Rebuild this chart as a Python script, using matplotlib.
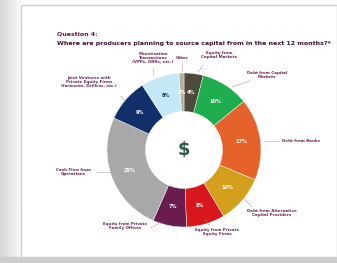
import matplotlib
matplotlib.use("Agg")
import matplotlib.pyplot as plt
import matplotlib.patches as mpatches
import numpy as np

# ---- data ----
categories = [
    "Equity from\nCapital Markets",
    "Debt from Capital\nMarkets",
    "Debt from Banks",
    "Debt from Alternative\nCapital Providers",
    "Equity from Private\nEquity Firms",
    "Equity from Private\nFamily Offices",
    "Cash Flow from\nOperations",
    "Joint Ventures with\nPrivate Equity Firms\n(farmouts, Drillcos, etc.)",
    "Monetization\nTransactions\n(VPPs, ORRs, etc.)",
    "Other",
]
values = [4, 10, 17, 10, 8, 7, 25, 9, 8, 1]
colors = ["#4e4b3c", "#1fae4f", "#e5622a", "#d59f1e", "#d8171d",
          "#6a1c4e", "#a8a8a8", "#11306a", "#c5e8f7", "#b4ae97"]
pct_colors = ["white", "white", "white", "white", "white",
              "white", "white", "white", "#1f3a6a", "white"]

title1 = "Question 4:"
title2 = "Where are producers planning to source capital from in the next 12 months?*"

# ---- figure ----
W, H = 337, 263
fig = plt.figure(figsize=(W / 100, H / 100), dpi=100)
fig.patch.set_facecolor("white")

# background: grey margins + white slide
bg = fig.add_axes([0, 0, 1, 1])
bg.set_xlim(0, W)
bg.set_ylim(H, 0)
bg.axis("off")
grad = np.linspace(0.84, 0.97, 20)[None, :]
bg.imshow(np.repeat(grad, 2, axis=0), cmap="gray", vmin=0, vmax=1,
          extent=(0, 21, H, 0), aspect="auto", zorder=0)
bg.add_patch(mpatches.Rectangle((0, 257), W, H - 257, color="#cdcdcd", zorder=1))
bg.add_patch(mpatches.Rectangle((21, 5), W - 21, 252, facecolor="white",
                                edgecolor="#d0d0d0", lw=1.0, zorder=2))

# pie axes: 1 data unit = R pixels
cx, cy, R = 184, 150, 77
ax = fig.add_axes([0, 0, 1, 1])
ax.set_zorder(3)
ax.patch.set_alpha(0)

wedges, texts = ax.pie(
    values, colors=colors, startangle=90, counterclock=False, radius=1.0,
    wedgeprops=dict(width=0.5, edgecolor="white", linewidth=0.3))
ax.set_xlim(-cx / R, (W - cx) / R)
ax.set_ylim(-(H - cy) / R, cy / R)
ax.set_aspect("equal", adjustable="datalim")
ax.axis("off")

for w, v, tc in zip(wedges, values, pct_colors):
    ang = np.deg2rad((w.theta1 + w.theta2) / 2)
    ax.text(0.75 * np.cos(ang), 0.75 * np.sin(ang), f"{v}%", ha="center",
            va="center", fontsize=3.6, color=tc, fontweight="bold")

ax.text(0, 0, "$", ha="center", va="center", fontsize=13, fontweight="bold",
        color="#2f5a46")

# callout text positions (pixel layout)
label_pos = [(219, 55), (267, 75), (301, 141), (272, 213), (217, 232),
             (125, 226), (73, 172), (89, 82), (153, 58), (182, 58)]
leader = [((203, 65), (198, 72)), ((250, 81), (232, 87)), ((264, 141), (280, 141)),
          ((243, 197), (252, 207)), ((205, 219), (210, 226)),
          ((163, 222), (150, 228)), ((97, 172), (112, 172)),
          ((121, 96), (125, 101)), ((153, 68), (153, 75)), ((182, 63), (182, 71))]
lab_color = "#6b2457"

def tp(px, py):
    return ((px - cx) / R, (cy - py) / R)

for cat, (px, py), (p0, p1) in zip(categories, label_pos, leader):
    x, y = tp(px, py)
    ax.text(x, y, cat, ha="center", va="center", fontsize=2.9, color=lab_color,
            fontweight="bold", linespacing=1.1)
    a, b = tp(*p0), tp(*p1)
    ax.plot([a[0], b[0]], [a[1], b[1]], ls=(0, (1.2, 1.2)), lw=0.6, color="#9a7a8e")

fig.text(57 / W, 1 - 34 / H, title1, fontsize=4.5, fontweight="bold",
         color="#5e1c4c", ha="left", va="center", zorder=5)
fig.text(57 / W, 1 - 43 / H, title2, fontsize=4.5, fontweight="bold",
         color="#3d1233", ha="left", va="center", zorder=5)

fig.savefig("out.png", dpi=100)
